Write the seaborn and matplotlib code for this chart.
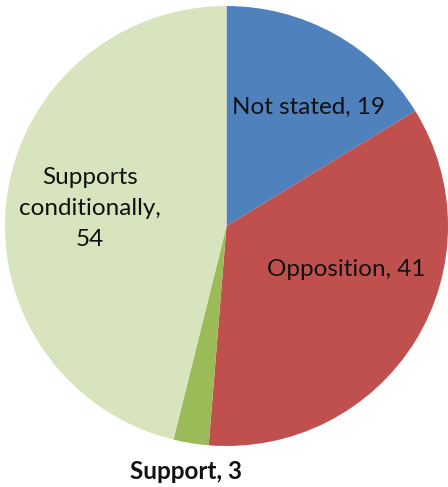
import matplotlib
matplotlib.use("Agg")
import matplotlib.pyplot as plt
import seaborn as sns

categories = ["Not stated", "Opposition", "Support", "Supports conditionally"]
values = [19, 41, 3, 54]
label_texts = ["Not stated, 19", "Opposition, 41", "Support, 3", "Supports\nconditionally,\n54"]
colors = ["#4F81BD", "#C0504D", "#9BBB59", "#D7E4BD"]

sns.set_theme(style="white")
plt.rcParams["font.family"] = ["Lato", "DejaVu Sans"]

fig = plt.figure(figsize=(4.48, 4.87), dpi=100)
ax = fig.add_axes([5 / 448, (487 - 446) / 487, 443 / 448, 440 / 487])
wedges, _ = ax.pie(values, colors=colors, startangle=90, counterclock=False,
                   radius=1, wedgeprops=dict(linewidth=0))
ax.set_xlim(-1, 1)
ax.set_ylim(-1, 1)
ax.set_aspect("auto")
ax.axis("off")

label_pos = [(0.368, 0.54), (0.54, -0.20), (-0.183, -1.115), (-0.617, 0.08)]
weights = ["normal", "normal", "bold", "normal"]
for txt, (x, y), w in zip(label_texts, label_pos, weights):
    ax.text(x, y, txt, ha="center", va="center", fontsize=17.5, color="#111111",
            fontweight=w, linespacing=1.6, clip_on=False)

fig.savefig("out.png", dpi=100)
